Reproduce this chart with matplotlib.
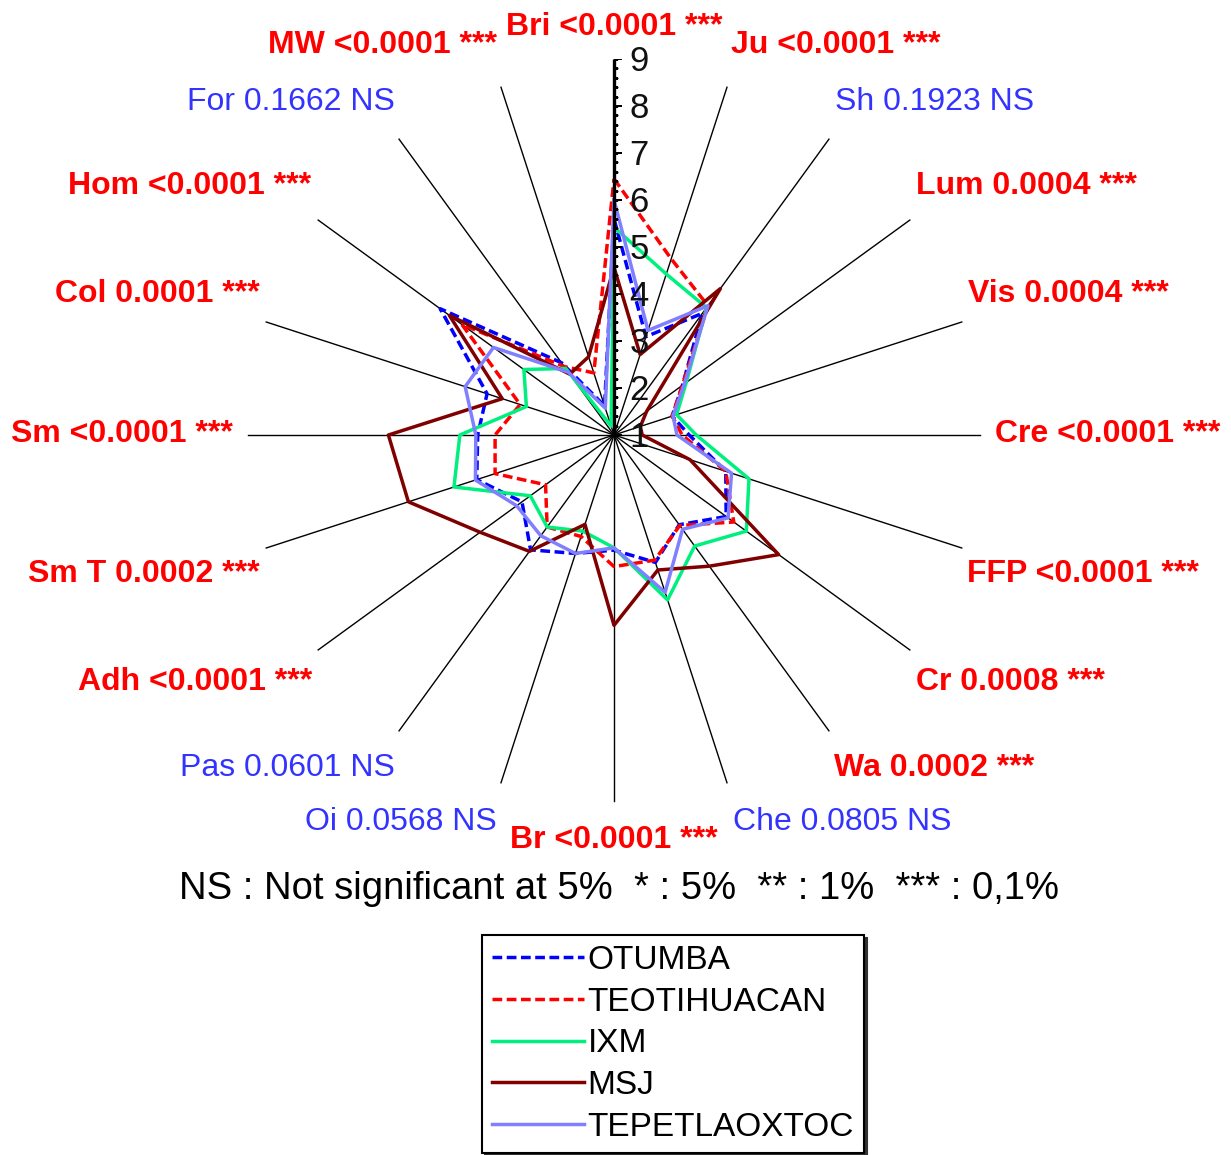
import numpy as np
import matplotlib
matplotlib.use("Agg")
import matplotlib.pyplot as plt
from matplotlib.path import Path

plt.rcParams['font.family'] = ['Liberation Sans', 'DejaVu Sans']

# ---------------- data ----------------
variables = ['Bri', 'Ju', 'Sh', 'Lum', 'Vis', 'Cre', 'FFP', 'Cr', 'Wa', 'Che',
             'Br', 'Oi', 'Pas', 'Adh', 'Sm T', 'Sm', 'Col', 'Hom', 'For', 'MW']
p_values = ['<0.0001', '<0.0001', '0.1923', '0.0004', '0.0004', '<0.0001', '<0.0001',
            '0.0008', '0.0002', '0.0805', '<0.0001', '0.0568', '0.0601', '<0.0001',
            '0.0002', '<0.0001', '0.0001', '<0.0001', '0.1662', '<0.0001']
significance = ['***', '***', 'NS', '***', '***', '***', '***', '***', '***', 'NS',
                '***', 'NS', 'NS', '***', '***', '***', '***', '***', 'NS', '***']

otumba = [5.6, 3.2, 4.2, 2.8, 2.3, 2.6, 3.5, 3.95, 3.36, 3.85,
          3.45, 3.65, 4.02, 3.42, 4.07, 3.9, 3.84, 5.57, 2.9, 1.65]
teotihuacan = [6.45, 4.94, 4.4, 2.8, 2.3, 2.45, 3.5, 4.15, 3.38, 3.8,
               3.8, 3.27, 3.42, 2.8, 3.66, 3.53, 3.1, 5.0, 2.8, 2.39]
ixm = [5.42, 4.6, 4.35, 2.9, 2.4, 2.75, 4.02, 4.48, 3.92, 4.69,
       3.4, 3.15, 3.42, 3.2, 4.58, 4.28, 2.96, 3.37, 2.75, 1.2]
msj = [4.57, 2.8, 4.85, 1.86, 1.59, 1.6, 2.7, 5.33, 4.45, 4.02,
       5.05, 3.0, 4.06, 4.52, 5.6, 5.8, 3.5, 5.33, 2.6, 2.75]
tepetlaoxtoc = [6.0, 3.34, 4.4, 2.85, 2.32, 2.34, 3.63, 4.0, 3.48, 4.52,
                3.4, 3.65, 3.65, 3.56, 4.1, 3.94, 4.33, 4.17, 2.65, 1.6]

series_names = ['OTUMBA', 'TEOTIHUACAN', 'IXM', 'MSJ', 'TEPETLAOXTOC']
series_values = [otumba, teotihuacan, ixm, msj, tepetlaoxtoc]
scale_ticks = [1, 2, 3, 4, 5, 6, 7, 8, 9]

# ---------------- styles ----------------
colors = ['#0000FF', '#FF0000', '#00F080', '#800000', '#8080FF']
styles = [(0, (2.8, 1.3)), (0, (2.8, 1.3)), '-', '-', '-']

W, H = 1231, 1155
fig = plt.figure(figsize=(W / 100, H / 100), dpi=100)
cx, cy, R = 614, 435, 376
ax = fig.add_axes([(cx - R) / W, (H - cy - R) / H, 2 * R / W, 2 * R / H],
                  projection='polar')
ax.set_theta_zero_location('N')
ax.set_theta_direction(-1)
ax.set_ylim(1, 9)
ax.grid(False)
ax.set_xticks([])
ax.set_yticks([])
ax.spines['polar'].set_visible(False)
ax.patch.set_visible(False)

n = len(variables)
theta = np.arange(n) * 2 * np.pi / n

# radial axis lines
for i in range(1, n):
    ax.plot([theta[i], theta[i]], [1, 8.78], color='black', lw=1.0, zorder=1)
ax.plot([0, 0], [1, 9], color='black', lw=2.4, zorder=6, solid_capstyle='butt')

# ticks on the main axis
tick_marker = Path([(0, 0), (1, 0)])
minor = np.arange(1, 9.001, 0.2)
ax.plot(np.zeros_like(minor), minor, linestyle='none', marker=tick_marker,
        markersize=6, markeredgewidth=1.0, color='black', zorder=6)
ax.plot(np.zeros(len(scale_ticks)), scale_ticks, linestyle='none', marker=tick_marker,
        markersize=11, markeredgewidth=1.2, color='black', zorder=6)
for t in scale_ticks:
    ax.annotate(str(t), xy=(0, t), xytext=(11, -2), textcoords='offset points',
                ha='left', va='center', fontsize=25, color='#111111', zorder=7)

# series
th_closed = np.append(theta, theta[0])
for name, vals, c, ls in zip(series_names, series_values, colors, styles):
    v = np.append(vals, vals[0])
    ax.plot(th_closed, v, color=c, linestyle=ls, lw=2.5, label=name, zorder=3)

# variable labels (layout offsets in pixels from centre, and alignment)
label_offsets = [(0, -408, 'center'), (117, -390, 'left'), (221, -333, 'left'),
                 (302, -249, 'left'), (354, -141, 'left'), (381, -1, 'left'),
                 (353, 139, 'left'), (302, 247, 'left'), (220, 333, 'left'),
                 (119, 387, 'left'), (0, 405, 'center'), (-117, 387, 'right'),
                 (-219, 333, 'right'), (-302, 247, 'right'), (-354, 139, 'right'),
                 (-381, -1, 'right'), (-354, -141, 'right'), (-303, -249, 'right'),
                 (-219, -333, 'right'), (-117, -390, 'right')]
for name, p, s, (dx, dy, ha) in zip(variables, p_values, significance, label_offsets):
    if s == 'NS':
        txt = f'{name} {p} NS'
        kw = dict(color='#3333FF', fontweight='normal')
    else:
        txt = f'{name} {p} {s}'
        kw = dict(color='#FF0000', fontweight='bold')
    ax.text(0.5 + dx / (2 * R), 0.5 - dy / (2 * R), txt, transform=ax.transAxes,
            ha=ha, va='center', fontsize=23, **kw)

fig.text(619 / W, 1 - 889 / H,
         'NS : Not significant at 5%  * : 5%  ** : 1%  *** : 0,1%',
         ha='center', va='center', fontsize=27.5, color='black')

leg = fig.legend(loc='upper left', bbox_to_anchor=(482 / W, 1 - 935 / H),
                 frameon=True, fancybox=False, shadow={'color': '0.2', 'alpha': 1},
                 fontsize=24, handlelength=2.75, handletextpad=0.12,
                 labelspacing=0.32, borderpad=0.3, borderaxespad=0)
leg.get_frame().set_edgecolor('black')
leg.get_frame().set_linewidth(1.5)
leg.get_frame().set_alpha(1)

fig.savefig('out.png', dpi=100)
